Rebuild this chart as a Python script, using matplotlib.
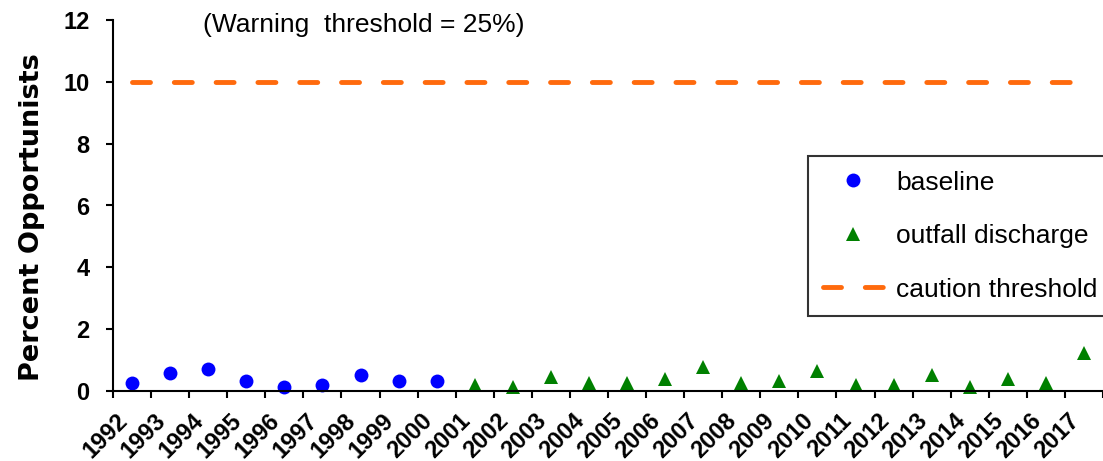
import matplotlib
matplotlib.use("Agg")
import matplotlib.pyplot as plt
from matplotlib.transforms import ScaledTranslation

plt.rcParams['font.family'] = ['Liberation Sans', 'DejaVu Sans']

years = [str(y) for y in range(1992, 2018)]
baseline_years = years[:9]
baseline_vals = [0.27, 0.59, 0.71, 0.32, 0.13, 0.19, 0.52, 0.32, 0.32]
outfall_years = years[9:]
outfall_vals = [0.18, 0.13, 0.45, 0.26, 0.26, 0.38, 0.78, 0.26, 0.33, 0.65,
                0.19, 0.19, 0.52, 0.13, 0.38, 0.26, 1.22]
caution_threshold = 10
warning_text = "(Warning  threshold = 25%)"
y_ticks = [0, 2, 4, 6, 8, 10, 12]

fig = plt.figure(figsize=(11.03, 4.61), dpi=100)
ax = fig.add_axes([113 / 1103, 1 - 391 / 461, 990 / 1103, 371 / 461])

idx = {y: i for i, y in enumerate(years)}
bx = [idx[y] for y in baseline_years]
ox = [idx[y] for y in outfall_years]

ax.plot(bx, baseline_vals, linestyle='none', marker='o', markersize=10,
        color='#0000FF', markeredgewidth=0, label='baseline', clip_on=False)
ax.plot(ox, outfall_vals, linestyle='none', marker='^', markersize=10.5,
        color='#008000', markeredgewidth=0, label='outfall discharge', clip_on=False)
thr, = ax.plot([0, len(years) - 1], [caution_threshold] * 2, color='#FF6A0D',
               linewidth=3.5, dash_capstyle='round', label='caution threshold')
thr.set_dashes([3.7, 4.9])

ax.set_xlim(-0.5, len(years) - 0.5)
ax.set_ylim(0, 12)
ax.set_yticks(y_ticks)
ax.set_yticklabels([str(v) for v in y_ticks], fontsize=17, fontweight='bold')
ax.set_xticks(range(len(years)))
ax.set_xticklabels(years, fontsize=17, fontweight='bold', rotation=45,
                   ha='right', va='top')
shift = ScaledTranslation(8 / 72, 0, fig.dpi_scale_trans)
for lab in ax.get_xticklabels():
    lab.set_transform(lab.get_transform() + shift)
ax.set_xticks([i - 0.5 for i in range(len(years) + 1)], minor=True)
ax.tick_params(axis='x', which='major', length=0, pad=13)
ax.tick_params(axis='x', which='minor', length=5, width=1.5, direction='out')
ax.tick_params(axis='y', length=5, width=1.5, direction='out', pad=12)

for s in ['top', 'right']:
    ax.spines[s].set_visible(False)
for s in ['left', 'bottom']:
    ax.spines[s].set_linewidth(1.5)

fig.text(19 / 1103, 1 - 217 / 461, 'Percent Opportunists', rotation=90,
         fontsize=19.5, fontweight='bold', family='DejaVu Sans',
         ha='left', va='center')

fig.text(203 / 1103, 1 - 25 / 461, warning_text, fontsize=19, va='center', ha='left')

leg = ax.legend(loc='upper left', bbox_to_anchor=(808 / 1103, 1 - 156 / 461),
                bbox_transform=fig.transFigure, fontsize=19, frameon=True,
                fancybox=False, edgecolor='black', labelspacing=1.12,
                handlelength=2.3, handletextpad=0.5, borderpad=0.55,
                borderaxespad=0)
leg.get_frame().set_linewidth(1.5)

fig.savefig('out.png', dpi=100)
